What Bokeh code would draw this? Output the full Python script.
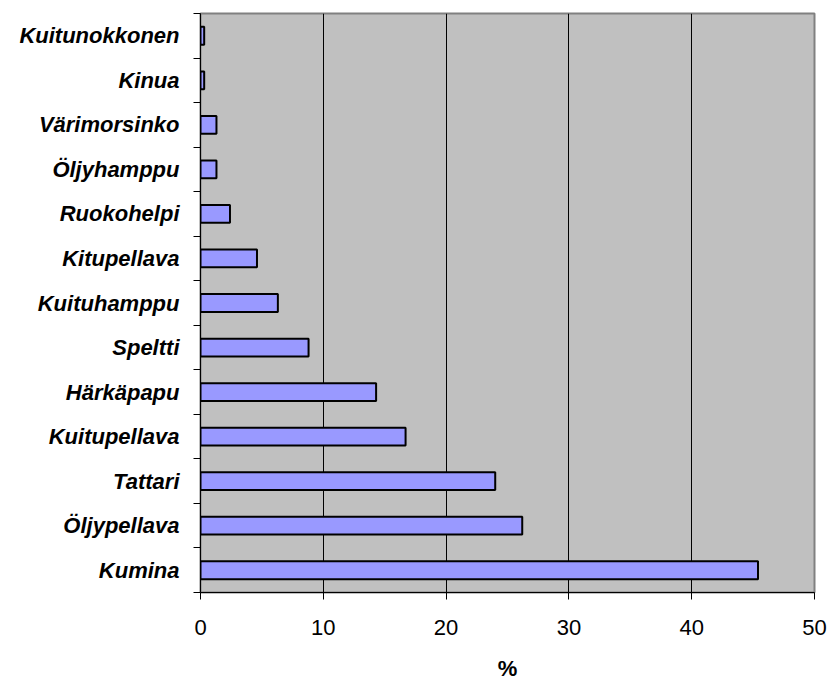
from bokeh.plotting import figure
from bokeh.models import FixedTicker, Range1d, ColumnDataSource
from bokeh.embed import file_html
from bokeh.resources import INLINE

# Crops, listed from the bottom of the chart to the top
crops = ["Kumina", "Öljypellava", "Tattari", "Kuitupellava", "Härkäpapu",
         "Speltti", "Kuituhamppu", "Kitupellava", "Ruokohelpi", "Öljyhamppu",
         "Värimorsinko", "Kinua", "Kuitunokkonen"]
shares = [45.4, 26.2, 24.0, 16.7, 14.3, 8.8, 6.3, 4.6, 2.4, 1.3, 1.3, 0.3, 0.3]
x_ticks = [0, 10, 20, 30, 40, 50]

centers = [i + 0.5 for i in range(len(crops))]
source = ColumnDataSource(dict(y=centers, share=shares, crop=crops))

p = figure(width=829, height=684, output_backend="svg", toolbar_location=None,
           x_range=Range1d(0, 50), y_range=Range1d(0, len(crops)),
           min_border_left=200, min_border_right=15,
           min_border_top=13, min_border_bottom=92)
p.background_fill_color = "#c0c0c0"
p.border_fill_color = "white"
p.outline_line_color = "#808080"
p.outline_line_width = 2

p.hbar(y="y", right="share", left=0, height=0.4, source=source,
       fill_color="#9999ff", line_color="black", line_width=2)

font = "Liberation Sans"

# x axis: percentages
p.xaxis.ticker = FixedTicker(ticks=x_ticks)
p.xaxis.axis_label = "%"
p.xaxis.axis_label_text_font = font
p.xaxis.axis_label_text_font_style = "bold"
p.xaxis.axis_label_text_font_size = "22px"
p.xaxis.axis_label_text_color = "black"
p.xaxis.axis_label_standoff = 18
p.xaxis.major_label_text_font = font
p.xaxis.major_label_text_font_size = "22px"
p.xaxis.major_label_text_color = "black"
p.xaxis.major_label_standoff = 20
p.xaxis.major_tick_out = 7
p.xaxis.major_tick_in = 0
p.xaxis.minor_tick_line_color = None
p.xaxis.axis_line_color = "black"
p.xaxis.major_tick_line_color = "black"

# y axis: crop names at bar centres, tick marks between categories
p.yaxis.ticker = FixedTicker(ticks=centers, minor_ticks=list(range(len(crops) + 1)))
p.yaxis.major_label_overrides = {c: name for c, name in zip(centers, crops)}
p.yaxis.major_label_text_font = font
p.yaxis.major_label_text_font_style = "bold italic"
p.yaxis.major_label_text_font_size = "22px"
p.yaxis.major_label_text_color = "black"
p.yaxis.major_label_standoff = 14
p.yaxis.major_tick_out = 0
p.yaxis.major_tick_in = 0
p.yaxis.minor_tick_out = 7
p.yaxis.minor_tick_in = 0
p.yaxis.minor_tick_line_color = "black"
p.yaxis.axis_line_color = "black"

p.xgrid.grid_line_color = "black"
p.xgrid.grid_line_width = 1
p.ygrid.grid_line_color = None

open("out.html", "w").write(file_html(p, INLINE))
